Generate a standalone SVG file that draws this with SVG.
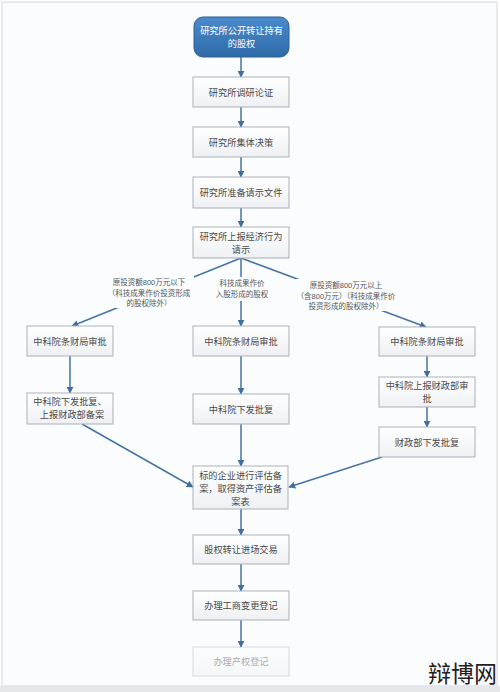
<svg xmlns="http://www.w3.org/2000/svg" width="500" height="692" viewBox="0 0 500 692">
<defs>
<linearGradient id="gb" x1="0" y1="0" x2="0" y2="1"><stop offset="0" stop-color="#ffffff"/><stop offset="1" stop-color="#eef0f3"/></linearGradient>
<linearGradient id="gblue" x1="0" y1="0" x2="0" y2="1"><stop offset="0" stop-color="#4a8bcc"/><stop offset="1" stop-color="#2f6aa8"/></linearGradient>
<marker id="ah" viewBox="0 0 10 10" refX="9" refY="5" markerWidth="7" markerHeight="7" orient="auto" markerUnits="userSpaceOnUse"><path d="M0,0 L10,5 L0,10 z" fill="#3f6f9f"/></marker>
<style>
.box{fill:url(#gb);stroke:#a9b1ba;stroke-width:1}
.t{font-family:"Liberation Sans","Noto Sans CJK SC",sans-serif;font-size:9.2px;fill:#4a4a4a;text-anchor:middle}
.w{fill:#ffffff}
.lb{font-family:"Liberation Sans","Noto Sans CJK SC",sans-serif;font-size:7.5px;fill:#555;text-anchor:middle}
.c{stroke:#4474a3;stroke-width:1.5;fill:none;marker-end:url(#ah)}
</style>
</defs>
<rect x="0" y="0" width="500" height="692" fill="#ffffff"/>
<rect x="2" y="2" width="495" height="684" fill="#fbfcfd" stroke="#d3d7dc" stroke-width="1"/>
<rect x="0" y="686" width="500" height="6" fill="#e4e6e9"/>
<g id="connectors">
<line class="c" x1="241" y1="57" x2="241" y2="77"/>
<line class="c" x1="241" y1="107" x2="241" y2="127"/>
<line class="c" x1="241" y1="157" x2="241" y2="177"/>
<line class="c" x1="241" y1="208" x2="241" y2="227"/>
<line class="c" x1="241" y1="258" x2="72" y2="326"/>
<line class="c" x1="241" y1="258" x2="241" y2="326"/>
<line class="c" x1="241" y1="258" x2="426" y2="327"/>
<line class="c" x1="70" y1="356" x2="70" y2="393"/>
<line class="c" x1="241" y1="356" x2="241" y2="394"/>
<line class="c" x1="427" y1="356" x2="427" y2="377"/>
<line class="c" x1="427" y1="407" x2="427" y2="427"/>
<line class="c" x1="82" y1="424" x2="193" y2="487"/>
<line class="c" x1="241" y1="424" x2="241" y2="466"/>
<line class="c" x1="382" y1="457" x2="289" y2="487"/>
<line class="c" x1="241" y1="509" x2="241" y2="535"/>
<line class="c" x1="241" y1="564" x2="241" y2="591"/>
<line class="c" x1="241" y1="620" x2="241" y2="647"/>
</g>
<g id="label-left">
<rect x="104" y="276" width="90" height="32" fill="#fbfcfd"/>
<text class="lb" x="149" y="285">原投资额800万元以下</text>
<text class="lb" x="149" y="296">（科技成果作价投资形成</text>
<text class="lb" x="149" y="306">的股权除外）</text>
</g>
<g id="label-center">
<rect x="214" y="277" width="54" height="24" fill="#fbfcfd"/>
<text class="lb" x="242" y="286">科技成果作价</text>
<text class="lb" x="242" y="297">入股形成的股权</text>
</g>
<g id="label-right">
<rect x="296" y="279" width="102" height="32" fill="#fbfcfd"/>
<text class="lb" x="346" y="288">原投资额800万元以上</text>
<text class="lb" x="346" y="299">（含800万元）（科技成果作价</text>
<text class="lb" x="346" y="309">投资形成的股权除外）</text>
</g>
<g id="n1">
<rect x="194" y="17" width="95" height="40" rx="9" fill="url(#gblue)" stroke="#2e5f95"/>
<text class="t w" x="241.5" y="34">研究所公开转让持有</text>
<text class="t w" x="241.5" y="47">的股权</text>
</g>
<g id="n2"><rect class="box" x="193" y="77" width="96" height="30"/><text class="t" x="241" y="95.5">研究所调研论证</text></g>
<g id="n3"><rect class="box" x="193" y="127" width="96" height="30"/><text class="t" x="241" y="145.5">研究所集体决策</text></g>
<g id="n4"><rect class="box" x="193" y="177" width="96" height="31"/><text class="t" x="241" y="196">研究所准备请示文件</text></g>
<g id="n5"><rect class="box" x="193" y="227" width="96" height="31"/><text class="t" x="241" y="240">研究所上报经济行为</text><text class="t" x="241" y="253">请示</text></g>
<g id="nL1"><rect class="box" x="27" y="326" width="86" height="30"/><text class="t" x="70" y="344.5">中科院条财局审批</text></g>
<g id="nL2"><rect class="box" x="27" y="393" width="86" height="31"/><text class="t" x="70" y="405">中科院下发批复、</text><text class="t" x="72" y="418">上报财政部备案</text></g>
<g id="nC1"><rect class="box" x="193" y="326" width="96" height="30"/><text class="t" x="241" y="344.5">中科院条财局审批</text></g>
<g id="nC2"><rect class="box" x="193" y="394" width="96" height="30"/><text class="t" x="241" y="412.5">中科院下发批复</text></g>
<g id="nR1"><rect class="box" x="379" y="327" width="96" height="29"/><text class="t" x="427" y="344.5">中科院条财局审批</text></g>
<g id="nR2"><rect class="box" x="379" y="377" width="96" height="30"/><text class="t" x="427" y="389">中科院上报财政部审</text><text class="t" x="427" y="402">批</text></g>
<g id="nR3"><rect class="box" x="379" y="427" width="96" height="30"/><text class="t" x="427" y="445.5">财政部下发批复</text></g>
<g id="n6"><rect class="box" x="193" y="466" width="95" height="43"/><text class="t" x="240.5" y="479">标的企业进行评估备</text><text class="t" x="240.5" y="492">案，取得资产评估备</text><text class="t" x="240.5" y="505">案表</text></g>
<g id="n7"><rect class="box" x="193" y="535" width="96" height="29"/><text class="t" x="241" y="552.5">股权转让进场交易</text></g>
<g id="n8"><rect class="box" x="193" y="591" width="96" height="29"/><text class="t" x="241" y="608.5">办理工商变更登记</text></g>
<g id="n9" opacity="0.45"><rect class="box" x="193" y="647" width="96" height="29"/><text class="t" x="241" y="664.5">办理产权登记</text></g>
<text x="497" y="682" font-family="Noto Sans CJK SC,sans-serif" font-size="23" fill="#222" text-anchor="end">辩博网</text>
</svg>
